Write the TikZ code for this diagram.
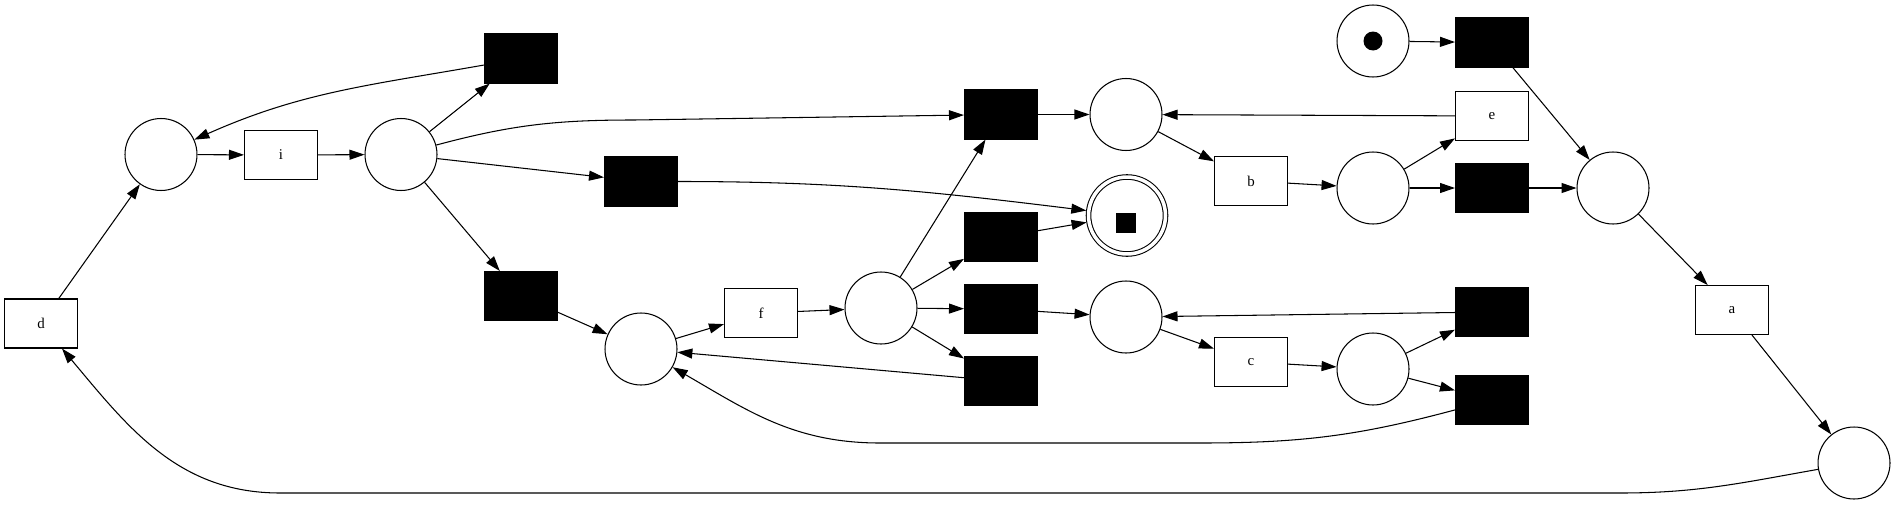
\documentclass[tikz,border=0pt]{standalone}
\usepackage{fontspec}
\setmainfont{Liberation Serif}
\usetikzlibrary{arrows.meta}

\begin{document}
\begin{tikzpicture}[x=.02cm,y=-.02cm,line width=.6pt,
	pl/.style={circle,draw,minimum size=1.44cm,inner sep=0pt},
	tr/.style={draw,minimum width=1.46cm,minimum height=.98cm,inner sep=0pt,font=\fontsize{8.5}{10}\selectfont},
	sil/.style={tr,fill=black},
	>={Triangle[length=.3cm,width=.2cm]}]
	\useasboundingbox (0,0) rectangle (1893,504);
	\path
	(41,323.5) node[tr] (d) {d}          % <<< left part
	(161,154.5) node[pl] (p1) {}
	(281,155) node[tr] (i) {i}
	(401,154.5) node[pl] (p2) {}
	(521,58.5) node[sil] (t1) {}
	(521,296) node[sil] (t3) {}
	(641,181.5) node[sil] (t2) {}
	(641,349) node[pl] (p3) {}
	(761,313) node[tr] (f) {f}
	(881,308) node[pl] (p5) {}
	(1001,114.5) node[sil] (t4) {}       % <<< middle part
	(1001,237) node[sil] (t5) {}
	(1001,309) node[sil] (t6) {}
	(1001,381) node[sil] (t7) {}
	(1126,114.5) node[pl] (p4) {}
	(1127,215.5) node[pl,double,double distance=.07cm,minimum size=1.54cm,outer sep=.05cm] (fin) {}
	(1126,222.5) node[fill,inner sep=0pt,minimum size=.4cm] (tokf) {}
	(1126,317) node[pl] (p6) {}
	(1251,181) node[tr] (b) {b}
	(1251,362) node[tr] (c) {c}
	(1373,41) node[pl] (p0) {}           % <<< right part
	(1373,41) node[circle,fill,inner sep=0pt,minimum size=.38cm] (tok0) {}
	(1373,188) node[pl] (p7) {}
	(1373,369) node[pl] (p9) {}
	(1492,42.5) node[sil] (t8) {}
	(1492,116) node[tr] (e) {e}
	(1492,188) node[sil] (t9) {}
	(1492,312) node[sil] (t10) {}
	(1492,400) node[sil] (t11) {}
	(1613,188) node[pl] (p8) {}
	(1732,310) node[tr] (a) {a}
	(1854,463) node[pl] (p10) {};
	\draw[->] (d)--(p1);
	\draw[->] (p1)--(i);
	\draw[->] (i)--(p2);
	\draw[->] (p2)--(t1);
	\draw[->] (p2)--(t2);
	\draw[->] (p2)--(t3);
	\draw[->] (p2) to[out=15,in=180] (634,120) -- (t4);
	\draw[->] (t1) to[out=190,in=24] (p1);
	\draw[->] (t2) to[out=0,in=173] (fin);
	\draw[->] (t3)--(p3);
	\draw[->] (p3)--(f);
	\draw[->] (f)--(p5);
	\draw[->] (p5)--(t4);
	\draw[->] (p5)--(t5);
	\draw[->] (p5)--(t6);
	\draw[->] (p5)--(t7);
	\draw[->] (t4)--(p4);
	\draw[->] (t5)--(fin);
	\draw[->] (t6)--(p6);
	\draw[->] (t7)--(p3);
	\draw[->] (p4)--(b);
	\draw[->] (p6)--(c);
	\draw[->] (b)--(p7);
	\draw[->] (c)--(p9);
	\draw[->] (p7)--(e);
	\draw[->] (p7)--(t9);
	\draw[->] (p9)--(t10);
	\draw[->] (p9)--(t11);
	\draw[->] (e)--(p4);
	\draw[->] (t10)--(p6);
	\draw[->] (t11) to[out=195,in=0] (1200,443) -- (880,443) to[out=180,in=-30] (p3);
	\draw[->] (p0)--(t8);
	\draw[->] (t8)--(p8);
	\draw[->] (t9)--(p8);
	\draw[->] (p8)--(a);
	\draw[->] (a)--(p10);
	\draw[->] (p10) to[out=190,in=0] (1620,493) -- (280,493) to[out=180,in=-50] (d);
\end{tikzpicture}
\end{document}
